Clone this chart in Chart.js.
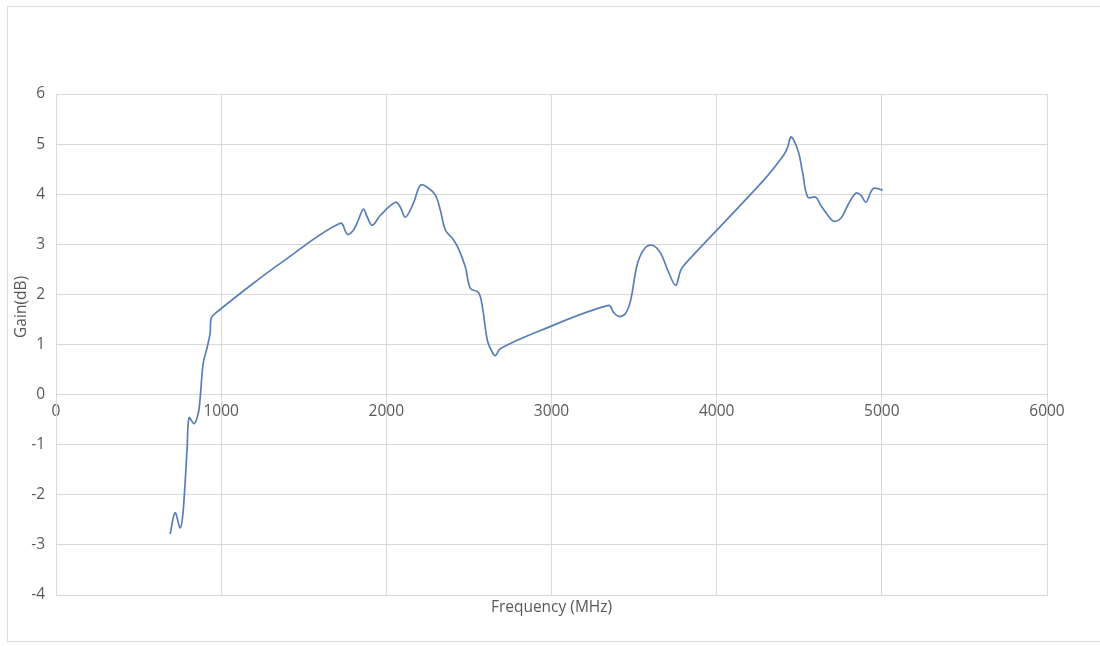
<!DOCTYPE html>
<html>
<head>
<meta charset="utf-8">
<script src="https://cdn.jsdelivr.net/npm/chart.js@4/dist/chart.umd.min.js"></script>
<style>
    body { margin: 0; background: #fff; }
    #frame {
        position: absolute; left: 7px; top: 6px; width: 1100px; height: 634px;
        border-left: 1px solid #dcdcdc; border-top: 1px solid #dcdcdc; border-bottom: 1px solid #dcdcdc;
    }
    #gainChart { position: absolute; left: 0; top: 0; }
</style>
</head>
<body>
<div id="frame"></div>
<canvas id="gainChart" width="1100" height="646"></canvas>
<script>
// measured gain curve
const freq = [691, 721, 752, 770, 794, 806, 836, 861, 873, 891, 915, 933, 939, 964,
    1218, 1358, 1721, 1764, 1800, 1830, 1861, 1885, 1915, 1964, 2055, 2085, 2115, 2164,
    2206, 2248, 2297, 2327, 2358, 2400, 2436, 2479, 2509, 2558, 2582, 2612, 2642, 2661,
    2691, 2933, 3345, 3376, 3406, 3448, 3479, 3521, 3570, 3612, 3661, 3709, 3752, 3782,
    3812, 4285, 4406, 4430, 4448, 4467, 4497, 4521, 4552, 4600, 4630, 4673, 4709, 4752,
    4794, 4842, 4873, 4903, 4933, 4952, 5006];
const gain = [-2.78, -2.36, -2.66, -2.32, -1.06, -0.46, -0.58, -0.38, -0.06, 0.62, 0.94, 1.22, 1.52, 1.62,
    2.28, 2.62, 3.42, 3.2, 3.28, 3.48, 3.7, 3.54, 3.38, 3.58, 3.84, 3.74, 3.54, 3.82,
    4.18, 4.14, 3.98, 3.68, 3.28, 3.12, 2.92, 2.54, 2.12, 2.04, 1.74, 1.08, 0.84, 0.78,
    0.92, 1.28, 1.78, 1.64, 1.56, 1.62, 1.88, 2.62, 2.94, 2.98, 2.82, 2.44, 2.18, 2.48,
    2.62, 4.28, 4.78, 4.94, 5.14, 5.08, 4.82, 4.42, 3.94, 3.94, 3.78, 3.58, 3.46, 3.52,
    3.78, 4.02, 3.98, 3.84, 4.04, 4.12, 4.08];

const xMin = 0, xMax = 6000, xStep = 1000;
const yMin = -4, yMax = 6, yStep = 1;

const points = freq.map((f, i) => ({x: f, y: gain[i]}));

const labelFont = {family: "'Open Sans', sans-serif", size: 15.5};
const gridColor = '#d9d9d9';
const textColor = '#595959';

// y title sits a little above the middle of the axis
const yTitle = {
    id: 'yTitle',
    afterDraw(chart) {
        const ctx = chart.ctx;
        const a = chart.chartArea;
        ctx.save();
        ctx.translate(22, a.top + (a.bottom - a.top) * 0.425);
        ctx.rotate(-Math.PI / 2);
        ctx.font = "15.5px 'Open Sans', sans-serif";
        ctx.fillStyle = textColor;
        ctx.textAlign = 'center';
        ctx.textBaseline = 'middle';
        ctx.fillText('Gain(dB)', 0, 0);
        ctx.restore();
    }
};

new Chart(document.getElementById('gainChart'), {
    type: 'scatter',
    data: {
        datasets: [{
            data: points,
            showLine: true,
            borderColor: '#5a7eb6',
            borderWidth: 1.7,
            pointRadius: 0,
            pointHoverRadius: 0,
            tension: 0.35,
            xAxisID: 'x',
            yAxisID: 'y'
        }]
    },
    options: {
        responsive: false,
        animation: false,
        maintainAspectRatio: false,
        layout: {padding: {left: 5, top: 94, right: 53, bottom: 27}},
        plugins: {legend: {display: false}, tooltip: {enabled: false}},
        scales: {
            x: {
                type: 'linear', position: 'bottom', min: xMin, max: xMax,
                ticks: {display: false, stepSize: xStep},
                grid: {color: gridColor, drawTicks: false},
                border: {color: gridColor},
                title: {display: true, text: 'Frequency (MHz)', color: textColor, font: labelFont, padding: {top: 2, bottom: 2}},
                afterFit: s => { s.height = 24; }
            },
            xLabels: {
                type: 'linear', position: {y: 0}, min: xMin, max: xMax,
                ticks: {stepSize: xStep, color: textColor, font: labelFont, padding: 8, maxRotation: 0,
                    callback: v => String(v)},
                grid: {display: false, drawTicks: false},
                border: {display: false}
            },
            y: {
                type: 'linear', position: 'left', min: yMin, max: yMax,
                ticks: {stepSize: yStep, color: textColor, font: labelFont, padding: 11},
                grid: {color: gridColor, drawTicks: false},
                border: {color: gridColor},
                afterFit: s => { s.width = 51; }
            }
        }
    },
    plugins: [yTitle]
});
</script>
</body>
</html>
